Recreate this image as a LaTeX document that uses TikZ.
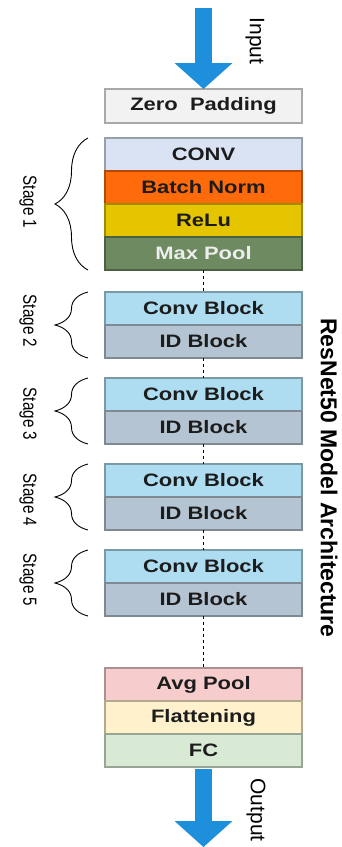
\documentclass[tikz,border=0pt]{standalone}
\usepackage{fontspec}
\setmainfont{Liberation Sans}
\newfontfamily\layerfont[FakeStretch=1.22]{Liberation Sans}
\newfontfamily\stagefont[FakeStretch=0.8]{Liberation Sans}
\usepackage{xcolor}
\usetikzlibrary{positioning, arrows.meta, decorations.pathreplacing}

\definecolor{zpfill}{HTML}{F2F2F2}
\definecolor{convfill}{HTML}{DAE3F3}
\definecolor{bnfill}{HTML}{FF6A0A}
\definecolor{relufill}{HTML}{E4C500}
\definecolor{mpfill}{HTML}{6D8A60}
\definecolor{cbfill}{HTML}{AEDCF0}
\definecolor{idfill}{HTML}{B5C4D2}
\definecolor{avgfill}{HTML}{F6CCCC}
\definecolor{flatfill}{HTML}{FFF1CC}
\definecolor{fcfill}{HTML}{D9EAD4}
\definecolor{flowblue}{HTML}{1E8FDA}
\definecolor{txt}{HTML}{1C1C1C}

\begin{document}
\begin{tikzpicture}[
        x=1pt, y=-1pt,
        node distance=0pt,
        layer/.style={rectangle, draw=#1!70!black, fill=#1, line width=1.2pt, minimum width=197pt, minimum height=33pt, inner sep=0pt, outer sep=0pt, text=txt, font=\layerfont\bfseries\fontsize{18}{20}\selectfont},
        flow/.style={draw=flowblue, line width=17pt, -{Triangle[width=58pt, length=26pt, line width=0pt]}},
        stagebrace/.style={draw, line width=0.9pt, decorate, decoration={brace, amplitude=33pt, aspect=0.5}},
        stagelabel/.style={rotate=-90, font=\stagefont\fontsize{19}{21}\selectfont},
        link/.style={draw, dashed, line width=0.9pt, dash pattern=on 3pt off 3pt}
        ]
        \useasboundingbox (0,0) rectangle (342,847);

        % pre-processing
        \node[layer=zpfill, minimum height=34pt] (zp) at (203.5,106) {Zero\ \ Padding};

        % stage 1
        \node[layer=convfill, below=15pt of zp] (conv) {CONV};
        \node[layer=bnfill, below=of conv] (bnorm) {Batch Norm};
        \node[layer=relufill, below=of bnorm] (relu) {ReLu};
        \node[layer=mpfill, below=of relu, text=white!93!black] (maxpool) {Max Pool};

        % stages 2-5
        \node[layer=cbfill, below=22pt of maxpool] (cb2) {Conv Block};
        \node[layer=idfill, below=of cb2] (id2) {ID Block};
        \node[layer=cbfill, below=20pt of id2] (cb3) {Conv Block};
        \node[layer=idfill, below=of cb3] (id3) {ID Block};
        \node[layer=cbfill, below=20pt of id3] (cb4) {Conv Block};
        \node[layer=idfill, below=of cb4] (id4) {ID Block};
        \node[layer=cbfill, below=20pt of id4] (cb5) {Conv Block};
        \node[layer=idfill, below=of cb5] (id5) {ID Block};

        % head
        \node[layer=avgfill, below=52pt of id5] (avg) {Avg Pool};
        \node[layer=flatfill, below=of avg] (flat) {Flattening};
        \node[layer=fcfill, below=of flat] (fc) {FC};

        % input and output
        \coordinate (inp) at (203.5,8);
        \coordinate (outp) at (203.5,847);
        \draw[flow] (inp) -- (zp.north);
        \draw[flow] ([yshift=-2pt]fc.south) -- (outp);
        \node[rotate=-90, font=\fontsize{21}{23}\selectfont] (inlabel) at (255,41) {Input};
        \node[rotate=-90, font=\fontsize{21}{23}\selectfont] (outlabel) at (256,810) {Output};

        % dashed links
        \draw[link] (maxpool.south) -- (cb2.north);
        \draw[link] (id2.south) -- (cb3.north);
        \draw[link] (id3.south) -- (cb4.north);
        \draw[link] (id4.south) -- (cb5.north);
        \draw[link] (id5.south) -- (avg.north);

        % stage braces
        \draw[stagebrace] ([xshift=-17pt]maxpool.south west) -- ([xshift=-17pt]conv.north west);
        \draw[stagebrace] ([xshift=-17pt]id2.south west) -- ([xshift=-17pt]cb2.north west);
        \draw[stagebrace] ([xshift=-17pt]id3.south west) -- ([xshift=-17pt]cb3.north west);
        \draw[stagebrace] ([xshift=-17pt]id4.south west) -- ([xshift=-17pt]cb4.north west);
        \draw[stagebrace] ([xshift=-17pt]id5.south west) -- ([xshift=-17pt]cb5.north west);
        \node[stagelabel] (s1) at (28,202) {Stage 1};
        \node[stagelabel] (s2) at (28,321) {Stage 2};
        \node[stagelabel] (s3) at (28,414) {Stage 3};
        \node[stagelabel] (s4) at (28,500) {Stage 4};
        \node[stagelabel] (s5) at (28,580) {Stage 5};

        % title
        \node[rotate=-90, font=\bfseries\fontsize{23}{25}\selectfont] (title) at (329,478) {ResNet50 Model Architecture};
    \end{tikzpicture}
\end{document}
